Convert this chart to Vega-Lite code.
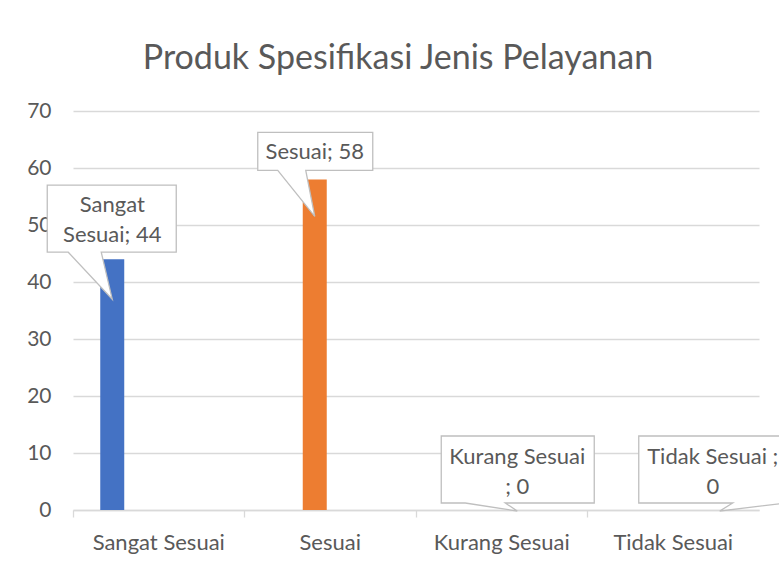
{
  "$schema": "https://vega.github.io/schema/vega-lite/v6.json",
  "autosize": "none",
  "padding": {"left": 73, "top": 111, "right": 20, "bottom": 54},
  "width": 686,
  "height": 399,
  "background": "white",
  "title": {
    "text": "Produk Spesifikasi Jenis Pelayanan",
    "font": "Lato",
    "fontSize": 34,
    "fontWeight": "normal",
    "color": "#595959",
    "anchor": "middle",
    "frame": "group",
    "baseline": "bottom",
    "offset": -10,
    "dx": -18
  },
  "data": {
    "values": [
      {"kategori": "Sangat Sesuai", "nilai": 44, "label": "Sangat\nSesuai; 44"},
      {"kategori": "Sesuai", "nilai": 58, "label": "Sesuai; 58"},
      {"kategori": "Kurang Sesuai", "nilai": 0, "label": "Kurang Sesuai\n; 0"},
      {"kategori": "Tidak Sesuai", "nilai": 0, "label": "Tidak Sesuai ;\n0"}
    ]
  },
  "encoding": {
    "x": {
      "field": "kategori", "type": "nominal",
      "sort": ["Sangat Sesuai", "Sesuai", "Kurang Sesuai", "Tidak Sesuai"],
      "scale": {"paddingInner": 0, "paddingOuter": 0},
      "axis": {
        "title": null, "labelAngle": 0, "labelFont": "Lato", "labelFontSize": 22,
        "labelColor": "#595959", "domainColor": "#D9D9D9", "domainWidth": 1.3,
        "tickColor": "#D9D9D9", "tickWidth": 1.3, "tickSize": 7, "bandPosition": 0,
        "labelPadding": 15, "grid": false
      }
    },
    "xOffset": {
      "field": "kategori", "type": "nominal",
      "sort": ["Sangat Sesuai", "Sesuai", "Kurang Sesuai", "Tidak Sesuai"],
      "scale": {"paddingInner": 0.226, "paddingOuter": 0.879}
    },
    "y": {
      "field": "nilai", "type": "quantitative",
      "scale": {"domain": [0, 70], "nice": false},
      "axis": {
        "title": null, "values": [0, 10, 20, 30, 40, 50, 60, 70],
        "labelFont": "Lato", "labelFontSize": 21, "labelColor": "#595959",
        "domain": false, "ticks": false, "labelPadding": 22,
        "gridColor": "#D9D9D9", "gridWidth": 1.3
      }
    }
  },
  "layer": [
    {
      "mark": {"type": "bar"},
      "encoding": {
        "color": {
          "field": "kategori", "type": "nominal", "legend": null,
          "scale": {
            "domain": ["Sangat Sesuai", "Sesuai", "Kurang Sesuai", "Tidak Sesuai"],
            "range": ["#4472C4", "#ED7D31", "#A5A5A5", "#FFC000"]
          }
        }
      }
    },
    {
      "transform": [{"filter": "datum.kategori === 'Sangat Sesuai'"}],
      "layer": [
        {"mark": {"type": "point", "shape": "M-65,-74L64,-74L64,-7L-11,-7L0,40L-44,-7L-65,-7Z", "size": 4, "filled": true, "fill": "white", "stroke": "#BFBFBF", "strokeWidth": 1.3, "opacity": 1}},
        {"mark": {"type": "text", "font": "Lato", "fontSize": 22, "color": "#595959", "lineBreak": "\n", "lineHeight": 30, "align": "center", "baseline": "middle", "dy": -54}, "encoding": {"text": {"field": "label"}}}
      ]
    },
    {
      "transform": [{"filter": "datum.kategori === 'Sesuai'"}],
      "layer": [
        {"mark": {"type": "point", "shape": "M-57,-47L58,-47L58,-9L-9,-9L0,37L-37,-9L-57,-9Z", "size": 4, "filled": true, "fill": "white", "stroke": "#BFBFBF", "strokeWidth": 1.3, "opacity": 1}},
        {"mark": {"type": "text", "font": "Lato", "fontSize": 22, "color": "#595959", "align": "center", "baseline": "middle", "dy": -27}, "encoding": {"text": {"field": "label"}}}
      ]
    },
    {
      "transform": [{"filter": "datum.kategori === 'Kurang Sesuai'"}],
      "layer": [
        {"mark": {"type": "point", "shape": "M-76,-74L77,-74L77,-7L-12,-7L0,1L-52,-7L-76,-7Z", "size": 4, "filled": true, "fill": "white", "stroke": "#BFBFBF", "strokeWidth": 1.3, "opacity": 1}},
        {"mark": {"type": "text", "font": "Lato", "fontSize": 22, "color": "#595959", "lineBreak": "\n", "lineHeight": 30, "align": "center", "baseline": "middle", "dy": -53}, "encoding": {"text": {"field": "label"}}}
      ]
    },
    {
      "transform": [{"filter": "datum.kategori === 'Tidak Sesuai'"}],
      "layer": [
        {"mark": {"type": "point", "shape": "M-81,-74L67,-74L67,-7L0,1L13,-7L-81,-7Z", "size": 4, "filled": true, "fill": "white", "stroke": "#BFBFBF", "strokeWidth": 1.3, "opacity": 1}},
        {"mark": {"type": "text", "font": "Lato", "fontSize": 22, "color": "#595959", "lineBreak": "\n", "lineHeight": 30, "align": "center", "baseline": "middle", "dy": -53, "dx": -7}, "encoding": {"text": {"field": "label"}}}
      ]
    }
  ],
  "config": {"view": {"stroke": null}}
}
